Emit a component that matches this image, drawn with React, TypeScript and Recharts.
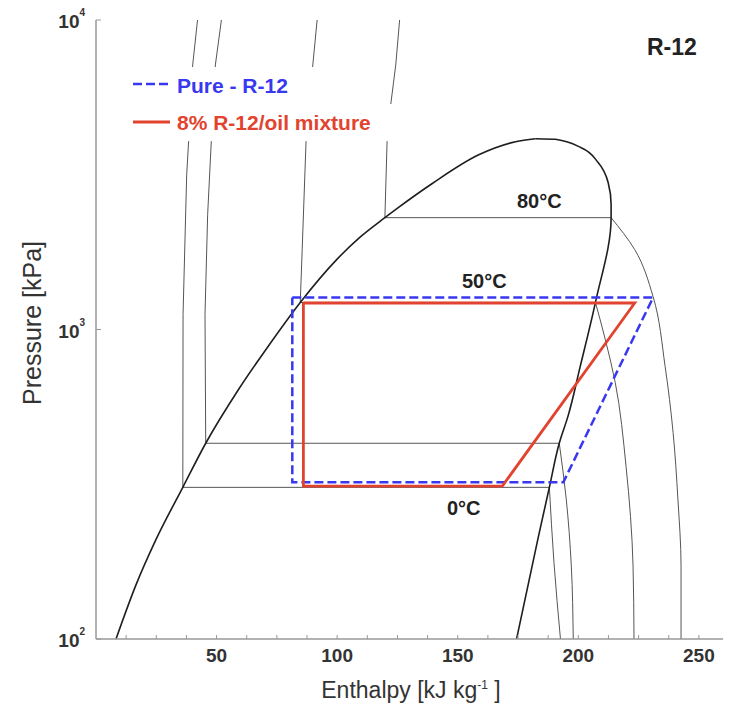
import React from 'react';
import { LineChart, Line, XAxis, YAxis } from 'recharts';

const FONT = '"Liberation Sans", Arial, Helvetica, sans-serif';

// Saturation dome: liquid side (bottom -> critical region)
const domeLiquid = [
  { h: 8.3, p: 100 }, { h: 16.5, p: 149 }, { h: 24.8, p: 209 }, { h: 36.0, p: 309 },
  { h: 45.5, p: 429 }, { h: 59.1, p: 640 }, { h: 71.5, p: 885 }, { h: 84.7, p: 1223 },
  { h: 99.6, p: 1676 }, { h: 109.5, p: 1988 }, { h: 119.8, p: 2298 }, { h: 125.6, p: 2485 },
  { h: 139.3, p: 2958 }, { h: 158.7, p: 3668 }, { h: 174.0, p: 4042 }, { h: 182.2, p: 4132 },
];
// Saturation dome: vapour side (critical region -> bottom)
const domeVapour = [
  { h: 182.2, p: 4132 }, { h: 190.5, p: 4117 }, { h: 201.2, p: 3865 }, { h: 208.3, p: 3457 },
  { h: 212.4, p: 2980 }, { h: 213.6, p: 2531 }, { h: 213.6, p: 2298 }, { h: 207.1, p: 1223 },
  { h: 200.8, p: 760 }, { h: 195.7, p: 524 }, { h: 192.1, p: 429 }, { h: 188.0, p: 309 },
  { h: 183.5, p: 215 }, { h: 174.4, p: 100 },
];

// Isotherms: compressed liquid + two-phase parts
const iso0Liquid = [
  { h: 42.1, p: 10000 }, { h: 40.1, p: 7158 }, { h: 38.4, p: 4042 }, { h: 37.6, p: 3162 },
  { h: 36.1, p: 1118 }, { h: 36.0, p: 309 }, { h: 188.0, p: 309 },
];
const iso10Liquid = [
  { h: 52.0, p: 10000 }, { h: 49.5, p: 7158 }, { h: 47.8, p: 4042 }, { h: 46.3, p: 2350 },
  { h: 45.2, p: 1118 }, { h: 45.5, p: 429 }, { h: 192.1, p: 429 },
];
const iso50Liquid = [
  { h: 91.7, p: 10000 }, { h: 89.9, p: 7158 }, { h: 87.1, p: 4042 }, { h: 85.5, p: 1812 },
  { h: 84.7, p: 1223 }, { h: 207.1, p: 1223 },
];
const iso80Liquid = [
  { h: 125.9, p: 10000 }, { h: 124.3, p: 7158 }, { h: 122.2, p: 5318 }, { h: 120.7, p: 4042 },
  { h: 119.8, p: 2298 }, { h: 213.6, p: 2298 },
];
// Isotherms: superheated vapour parts
const iso0Vapour = [{ h: 188.0, p: 309 }, { h: 189.9, p: 177 }, { h: 192.6, p: 100 }];
const iso10Vapour = [{ h: 192.1, p: 429 }, { h: 195.0, p: 283 }, { h: 197.1, p: 172 }, { h: 197.9, p: 100 }];
const iso50Vapour = [
  { h: 207.1, p: 1223 }, { h: 211.2, p: 928 }, { h: 215.3, p: 675 }, { h: 219.8, p: 361 },
  { h: 222.7, p: 172 }, { h: 223.1, p: 100 },
];
const iso80Vapour = [
  { h: 213.6, p: 2298 }, { h: 223.4, p: 1812 }, { h: 231.0, p: 1278 }, { h: 236.0, p: 760 },
  { h: 239.3, p: 465 }, { h: 241.3, p: 283 }, { h: 242.6, p: 172 }, { h: 242.6, p: 100 },
];

// Refrigeration cycles
const pureCycle = [
  { h: 81.4, p: 1268 }, { h: 231.0, p: 1268 }, { h: 193.8, p: 321 }, { h: 81.4, p: 321 }, { h: 81.4, p: 1268 },
];
const mixCycle = [
  { h: 86.0, p: 1218 }, { h: 223.4, p: 1218 }, { h: 168.5, p: 312 }, { h: 86.0, p: 312 }, { h: 86.0, p: 1218 },
];

const xTicks = [0, 12.5, 25, 37.5, 50, 62.5, 75, 87.5, 100, 112.5, 125, 137.5, 150, 162.5, 175, 187.5, 200, 212.5, 225, 237.5, 250];
const xLabels = [50, 100, 150, 200, 250];
const yTicks = [100, 1000, 10000];
const yExp: Record<number, string> = { 100: '2', 1000: '3', 10000: '4' };

const BLUE = '#3838f0';
const RED = '#e2432e';
const THIN = '#555';
const FRAME = '#999';

const BottomTick = (props: any) => {
  const { x, y, payload } = props;
  const v = payload.value;
  return (
    <g>
      {v > 0 && <line x1={x} x2={x} y1={y} y2={y - 4} stroke={FRAME} strokeWidth={1} />}
      {xLabels.includes(v) && (
        <text x={x} y={y + 23} textAnchor="middle" fontSize={19} fontWeight="bold" fill="#333" fontFamily={FONT}>
          {v}
        </text>
      )}
    </g>
  );
};
const TopTick = (props: any) => {
  const { x, y, payload } = props;
  return payload.value > 0 ? <line x1={x} x2={x} y1={y} y2={y + 4} stroke={FRAME} strokeWidth={1} /> : <g />;
};
const LeftTick = (props: any) => {
  const { x, y, payload } = props;
  const v = payload.value;
  return (
    <g>
      <line x1={x} x2={x + 5} y1={y} y2={y} stroke={FRAME} strokeWidth={1} />
      <text x={x - 16.5} y={y + 8} textAnchor="end" fontSize={19} fontWeight="bold" fill="#333" fontFamily={FONT}>
        10
      </text>
      <text x={x - 16.5} y={y - 4} textAnchor="start" fontSize={10} fontWeight="bold" fill="#333" fontFamily={FONT}>
        {yExp[v]}
      </text>
    </g>
  );
};
const RightTick = (props: any) => {
  const { x, y } = props;
  return <line x1={x} x2={x - 5} y1={y} y2={y} stroke={FRAME} strokeWidth={1} />;
};

export default function App() {
  const common = { xAxisId: 'b', yAxisId: 'l', dataKey: 'p', dot: false, activeDot: false, isAnimationActive: false } as any;
  return (
    <div style={{ position: 'absolute', left: 0, top: 0, width: 729, height: 707, background: '#fff' }}>
      <LineChart width={729} height={707} margin={{ top: 20, right: 6, left: 0, bottom: 0 }}>
        <XAxis
          xAxisId="b" type="number" dataKey="h" domain={[0, 260]} ticks={xTicks} interval={0}
          allowDataOverflow height={68} tickSize={0} tickMargin={0} tickLine={false}
          axisLine={{ stroke: FRAME, strokeWidth: 1.5 }} tick={<BottomTick />}
        />
        <XAxis
          xAxisId="t" orientation="top" type="number" dataKey="h" domain={[0, 260]} ticks={xTicks} interval={0}
          allowDataOverflow height={0} tickSize={0} tickMargin={0} tickLine={false}
          axisLine={{ stroke: FRAME, strokeWidth: 1.5 }} tick={<TopTick />}
        />
        <YAxis
          yAxisId="l" type="number" scale="log" domain={[100, 10000]} ticks={yTicks} interval={0}
          allowDataOverflow width={96} tickSize={0} tickMargin={0} tickLine={false}
          axisLine={{ stroke: FRAME, strokeWidth: 1.5 }} tick={<LeftTick />}
        />
        <YAxis
          yAxisId="r" orientation="right" type="number" scale="log" domain={[100, 10000]} ticks={yTicks} interval={0}
          allowDataOverflow width={0} tickSize={0} tickMargin={0} tickLine={false}
          axisLine={{ stroke: FRAME, strokeWidth: 1.5 }} tick={<RightTick />}
        />
        <Line {...common} data={iso0Liquid} type="linear" stroke={THIN} strokeWidth={1} />
        <Line {...common} data={iso10Liquid} type="linear" stroke={THIN} strokeWidth={1} />
        <Line {...common} data={iso50Liquid} type="linear" stroke={THIN} strokeWidth={1} />
        <Line {...common} data={iso80Liquid} type="linear" stroke={THIN} strokeWidth={1} />
        <Line {...common} data={iso0Vapour} type="monotoneY" stroke={THIN} strokeWidth={1} />
        <Line {...common} data={iso10Vapour} type="monotoneY" stroke={THIN} strokeWidth={1} />
        <Line {...common} data={iso50Vapour} type="monotoneY" stroke={THIN} strokeWidth={1} />
        <Line {...common} data={iso80Vapour} type="monotoneY" stroke={THIN} strokeWidth={1} />
        <Line {...common} data={domeLiquid} type="monotoneX" stroke="#1e1e1e" strokeWidth={1.6} />
        <Line {...common} data={domeVapour} type="monotoneY" stroke="#1e1e1e" strokeWidth={1.6} />
        <Line {...common} data={pureCycle} type="linear" stroke={BLUE} strokeWidth={2.5} strokeDasharray="9 4" />
        <Line {...common} data={mixCycle} type="linear" stroke={RED} strokeWidth={2.8} />
      </LineChart>
      <svg width={729} height={707} style={{ position: 'absolute', left: 0, top: 0, pointerEvents: 'none' }} fontFamily={FONT}>
        <rect x={125} y={67} width={210} height={37} fill="#fff" />
        <rect x={125} y={104} width={271} height={37} fill="#fff" />
        <line x1={133} x2={170} y1={84} y2={84} stroke={BLUE} strokeWidth={2.5} strokeDasharray="9 4" />
        <text x={177} y={93} fontSize={21} fontWeight="bold" fill={BLUE}>Pure - R-12</text>
        <line x1={133} x2={170} y1={122} y2={122} stroke={RED} strokeWidth={2.8} />
        <text x={177} y={130} fontSize={21} fontWeight="bold" fill={RED}>8% R-12/oil mixture</text>
        <text x={647} y={55} fontSize={23} fontWeight="bold" fill="#222">R-12</text>
        <text x={517} y={208} fontSize={20} fontWeight="bold" fill="#222">80°C</text>
        <text x={462} y={288} fontSize={20} fontWeight="bold" fill="#222">50°C</text>
        <text x={447} y={515} fontSize={20} fontWeight="bold" fill="#222">0°C</text>
        <text x={0} y={0} transform="translate(41 323) rotate(-90)" textAnchor="middle" fontSize={25} fill="#333">
          Pressure [kPa]
        </text>
        <text x={411} y={698} textAnchor="middle" fontSize={23} fill="#333">
          Enthalpy [kJ kg<tspan dy={-9} fontSize={12}>-1</tspan><tspan dy={9}> ]</tspan>
        </text>
      </svg>
    </div>
  );
}
